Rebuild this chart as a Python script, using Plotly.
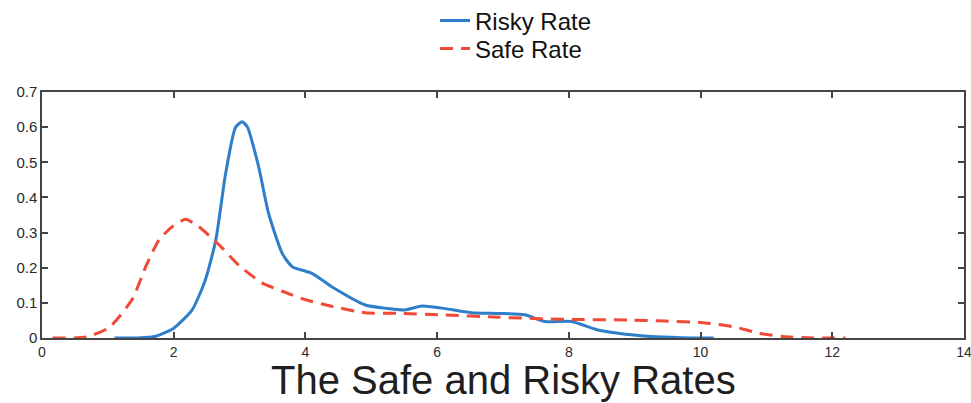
import plotly.graph_objects as go

# Risky Rate density
risky_x = [1.1, 1.45, 1.73, 2.0, 2.28, 2.48, 2.64, 2.79, 2.94, 3.04, 3.12, 3.29, 3.44, 3.65, 3.8, 4.1,
           4.4, 4.91, 5.21, 5.51, 5.77, 6.07, 6.52, 6.93, 7.33, 7.64, 8.04, 8.44, 8.95, 9.25, 9.7, 10.2]
risky_y = [0.0, 0.0, 0.005, 0.028, 0.08, 0.165, 0.28, 0.47, 0.6, 0.615, 0.6, 0.487, 0.355, 0.24, 0.203, 0.184,
           0.146, 0.094, 0.085, 0.08, 0.091, 0.085, 0.072, 0.07, 0.066, 0.047, 0.047, 0.023, 0.009, 0.004, 0.001, 0.0]

# Safe Rate density
safe_x = [0.16, 0.67, 1.02, 1.37, 1.58, 1.78, 1.98, 2.18, 2.38, 2.69, 3.0, 3.34, 3.65, 4.0, 4.4,
          4.91, 5.41, 6.07, 6.93, 7.94, 8.95, 10.0, 10.5, 10.9, 11.25, 11.7, 12.2]
safe_y = [0.0, 0.003, 0.03, 0.11, 0.205, 0.28, 0.317, 0.338, 0.317, 0.265, 0.205, 0.157, 0.133, 0.109, 0.09,
          0.072, 0.07, 0.066, 0.059, 0.053, 0.051, 0.044, 0.032, 0.013, 0.004, 0.0, 0.0]

x_ticks = [0, 2, 4, 6, 8, 10, 12, 14]
y_ticks = [0, 0.1, 0.2, 0.3, 0.4, 0.5, 0.6, 0.7]

fig = go.Figure()
fig.add_trace(go.Scatter(x=risky_x, y=risky_y, mode="lines", name="Risky Rate", legend="legend",
                         line=dict(color="#2f7ec9", width=3, shape="spline", smoothing=0.6)))
fig.add_trace(go.Scatter(x=safe_x, y=safe_y, mode="lines", name="Safe Rate", legend="legend2",
                         line=dict(color="#f04a37", width=3, dash="13px,8px", shape="spline", smoothing=0.6)))

axis_common = dict(showgrid=False, zeroline=False, showline=True, linecolor="#444444", linewidth=1.5,
                   mirror="ticks", ticks="inside", ticklen=6, tickcolor="#444444", tickwidth=1.5,
                   automargin=False, ticklabeloverflow="allow")

fig.update_xaxes(range=[0, 14], tickvals=x_ticks, ticktext=[str(v) for v in x_ticks],
                 tickfont=dict(family="Liberation Sans, Arial", size=14, color="#2a2a2a"), **axis_common)
fig.update_yaxes(range=[0, 0.7], tickvals=y_ticks, ticktext=["0"] + [str(v) for v in y_ticks[1:]],
                 tickfont=dict(family="Liberation Sans, Arial", size=15, color="#2a2a2a"), **axis_common)

legend_common = dict(xref="container", yref="container", xanchor="left", yanchor="middle",
                     font=dict(family="Liberation Sans, Arial", size=24, color="#111111"),
                     bgcolor="rgba(0,0,0,0)", itemwidth=30)

fig.update_layout(
    width=971, height=403,
    margin=dict(l=42, r=7, t=92, b=65, autoexpand=False),
    paper_bgcolor="white", plot_bgcolor="white",
    font=dict(family="Liberation Sans, Arial", color="#222222"),
    legend=dict(x=435 / 971, y=1 - 21 / 403, **legend_common),
    legend2=dict(x=435 / 971, y=1 - 49 / 403, **legend_common),
    showlegend=True,
    annotations=[dict(text="The Safe and Risky Rates", x=0.5, xref="paper", y=-0.161, yref="paper",
                      yanchor="middle", showarrow=False, yshift=-2, borderpad=0,
                      font=dict(family="Liberation Sans, Arial", size=40, color="#1f1f1f"))],
)

fig.write_html("out.html", config={"displayModeBar": False},
               post_script="document.body.style.margin='0';")
